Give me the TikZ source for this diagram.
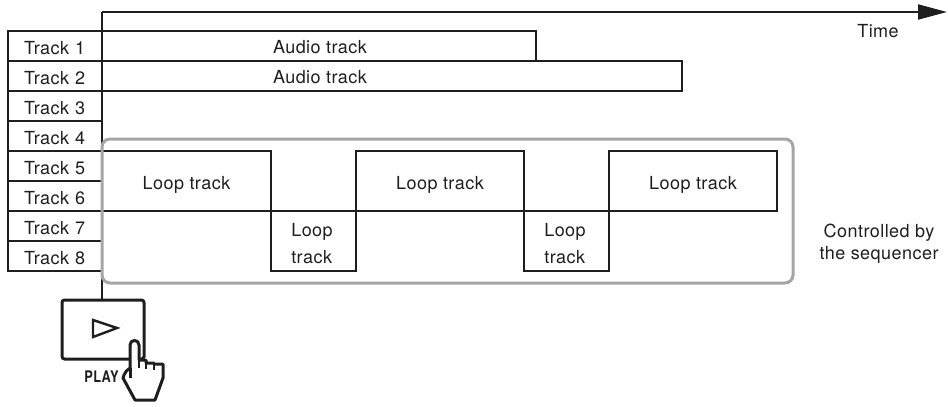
\documentclass[tikz,border=0pt]{standalone}
\usepackage{fontspec}
\setmainfont[LetterSpace=2.5]{TeX Gyre Heros}
\usetikzlibrary{arrows.meta}
\definecolor{boxgray}{RGB}{165,165,165}
\definecolor{inkblack}{RGB}{30,30,30}
\begin{document}
\begin{tikzpicture}[x=1pt, y=-1pt, font=\fontsize{18}{20}\selectfont, text=inkblack]

      \tikzset{trackbox/.style={draw=inkblack, line width=2pt, minimum width=94pt, minimum height=30pt, inner xsep=16pt, inner ysep=0pt, text width=62pt, align=left, text height=16pt, text depth=0pt}}
      \tikzset{audiobar/.style={draw=inkblack, line width=2pt, minimum height=30pt, inner sep=0pt}}
      \tikzset{loopbig/.style={draw=inkblack, line width=2pt, minimum width=168.5pt, minimum height=60pt, inner sep=0pt, text height=16pt, text depth=0pt}}
      \tikzset{loopsmall/.style={draw=inkblack, line width=2pt, minimum width=85pt, minimum height=60pt, inner sep=0pt}}
      \useasboundingbox (0,0) rectangle (948,407);
%% Time axis
      	\coordinate (origin) at (102,12);
      	\coordinate (timeend) at (947,12);
      	\node (time) at (878,31) {Time};
%% Audio tracks
      	\node[audiobar, minimum width=434pt] (audio1) at (319,46) {};
      	\node[audiobar, minimum width=580pt] (audio2) at (392,76) {};
      	\node (audiotext1) at (320,47) {Audio track};
      	\node (audiotext2) at (320,77) {Audio track};
%% Track names
      	\node[trackbox] (track1) at (55,46) {Track 1};
      	\node[trackbox] (track2) at (55,76) {Track 2};
      	\node[trackbox] (track3) at (55,106) {Track 3};
      	\node[trackbox] (track4) at (55,136) {Track 4};
      	\node[trackbox] (track5) at (55,166) {Track 5};
      	\node[trackbox] (track6) at (55,196) {Track 6};
      	\node[trackbox] (track7) at (55,226) {Track 7};
      	\node[trackbox] (track8) at (55,256) {Track 8};
%% Loop tracks
      	\node[loopbig] (loop1) at (186.5,181) {Loop track};
      	\node[loopsmall] (loop2) at (313.5,241) {};
      	\node[loopbig] (loop3) at (440,181) {Loop track};
      	\node[loopsmall] (loop4) at (566.5,241) {};
      	\node[loopbig] (loop5) at (693,181) {Loop track};
      	\node[align=left] (looptext2) at (312,244) {Loop\\[7pt]track};
      	\node[align=left] (looptext4) at (565,244) {Loop\\[7pt]track};
%% Play button
      	\node[draw=inkblack, line width=3pt, rounded corners=2.5pt, minimum width=82pt, minimum height=59pt, inner sep=0pt] (play) at (103,329.5) {};
      	\draw[inkblack, line width=2.4pt, line join=miter] (93,320) -- (117,328) -- (93,337) -- cycle;
      	\node[font=\fontsize{16}{16}\bfseries\selectfont, inner sep=0pt] (playtext) at (101.5,377) {\scalebox{.8}[1]{PLAY}};
%Edges
		\draw[-{Triangle[length=29pt, width=15pt]}, inkblack, line width=2pt] (origin) -- (timeend);
		\draw[inkblack, line width=2pt] (origin) -- (origin |- play.north);
%Sequencer frame
		\node[draw=boxgray, line width=3pt, rounded corners=8pt, minimum width=691pt, minimum height=144pt, inner sep=0pt] (frame) at (447.5,211) {};
		\node[align=center] (sequencer) at (879,244) {Controlled by\\[2pt]the sequencer};
%Hand
		\draw[inkblack, line width=3pt, fill=white, line join=round] (130,368) -- (130,345) .. controls (130,339) and (139,339) .. (139,345) -- (139,360) -- (146,360) -- (146,363) -- (154,363) -- (154,364) -- (163,364) -- (163,378) -- (155,400) -- (135,400) -- (123,378) -- (124,375) .. controls (125,372) and (127,370) .. (130,368);
		\draw[inkblack, line width=3pt] (130,368) -- (130,378);
		\draw[inkblack, line width=2.4pt] (139,360) -- (139,368);
		\draw[inkblack, line width=2.4pt] (146,362) -- (146,369);
		\draw[inkblack, line width=2.4pt] (154,364) -- (154,370);

	\end{tikzpicture}
\end{document}
